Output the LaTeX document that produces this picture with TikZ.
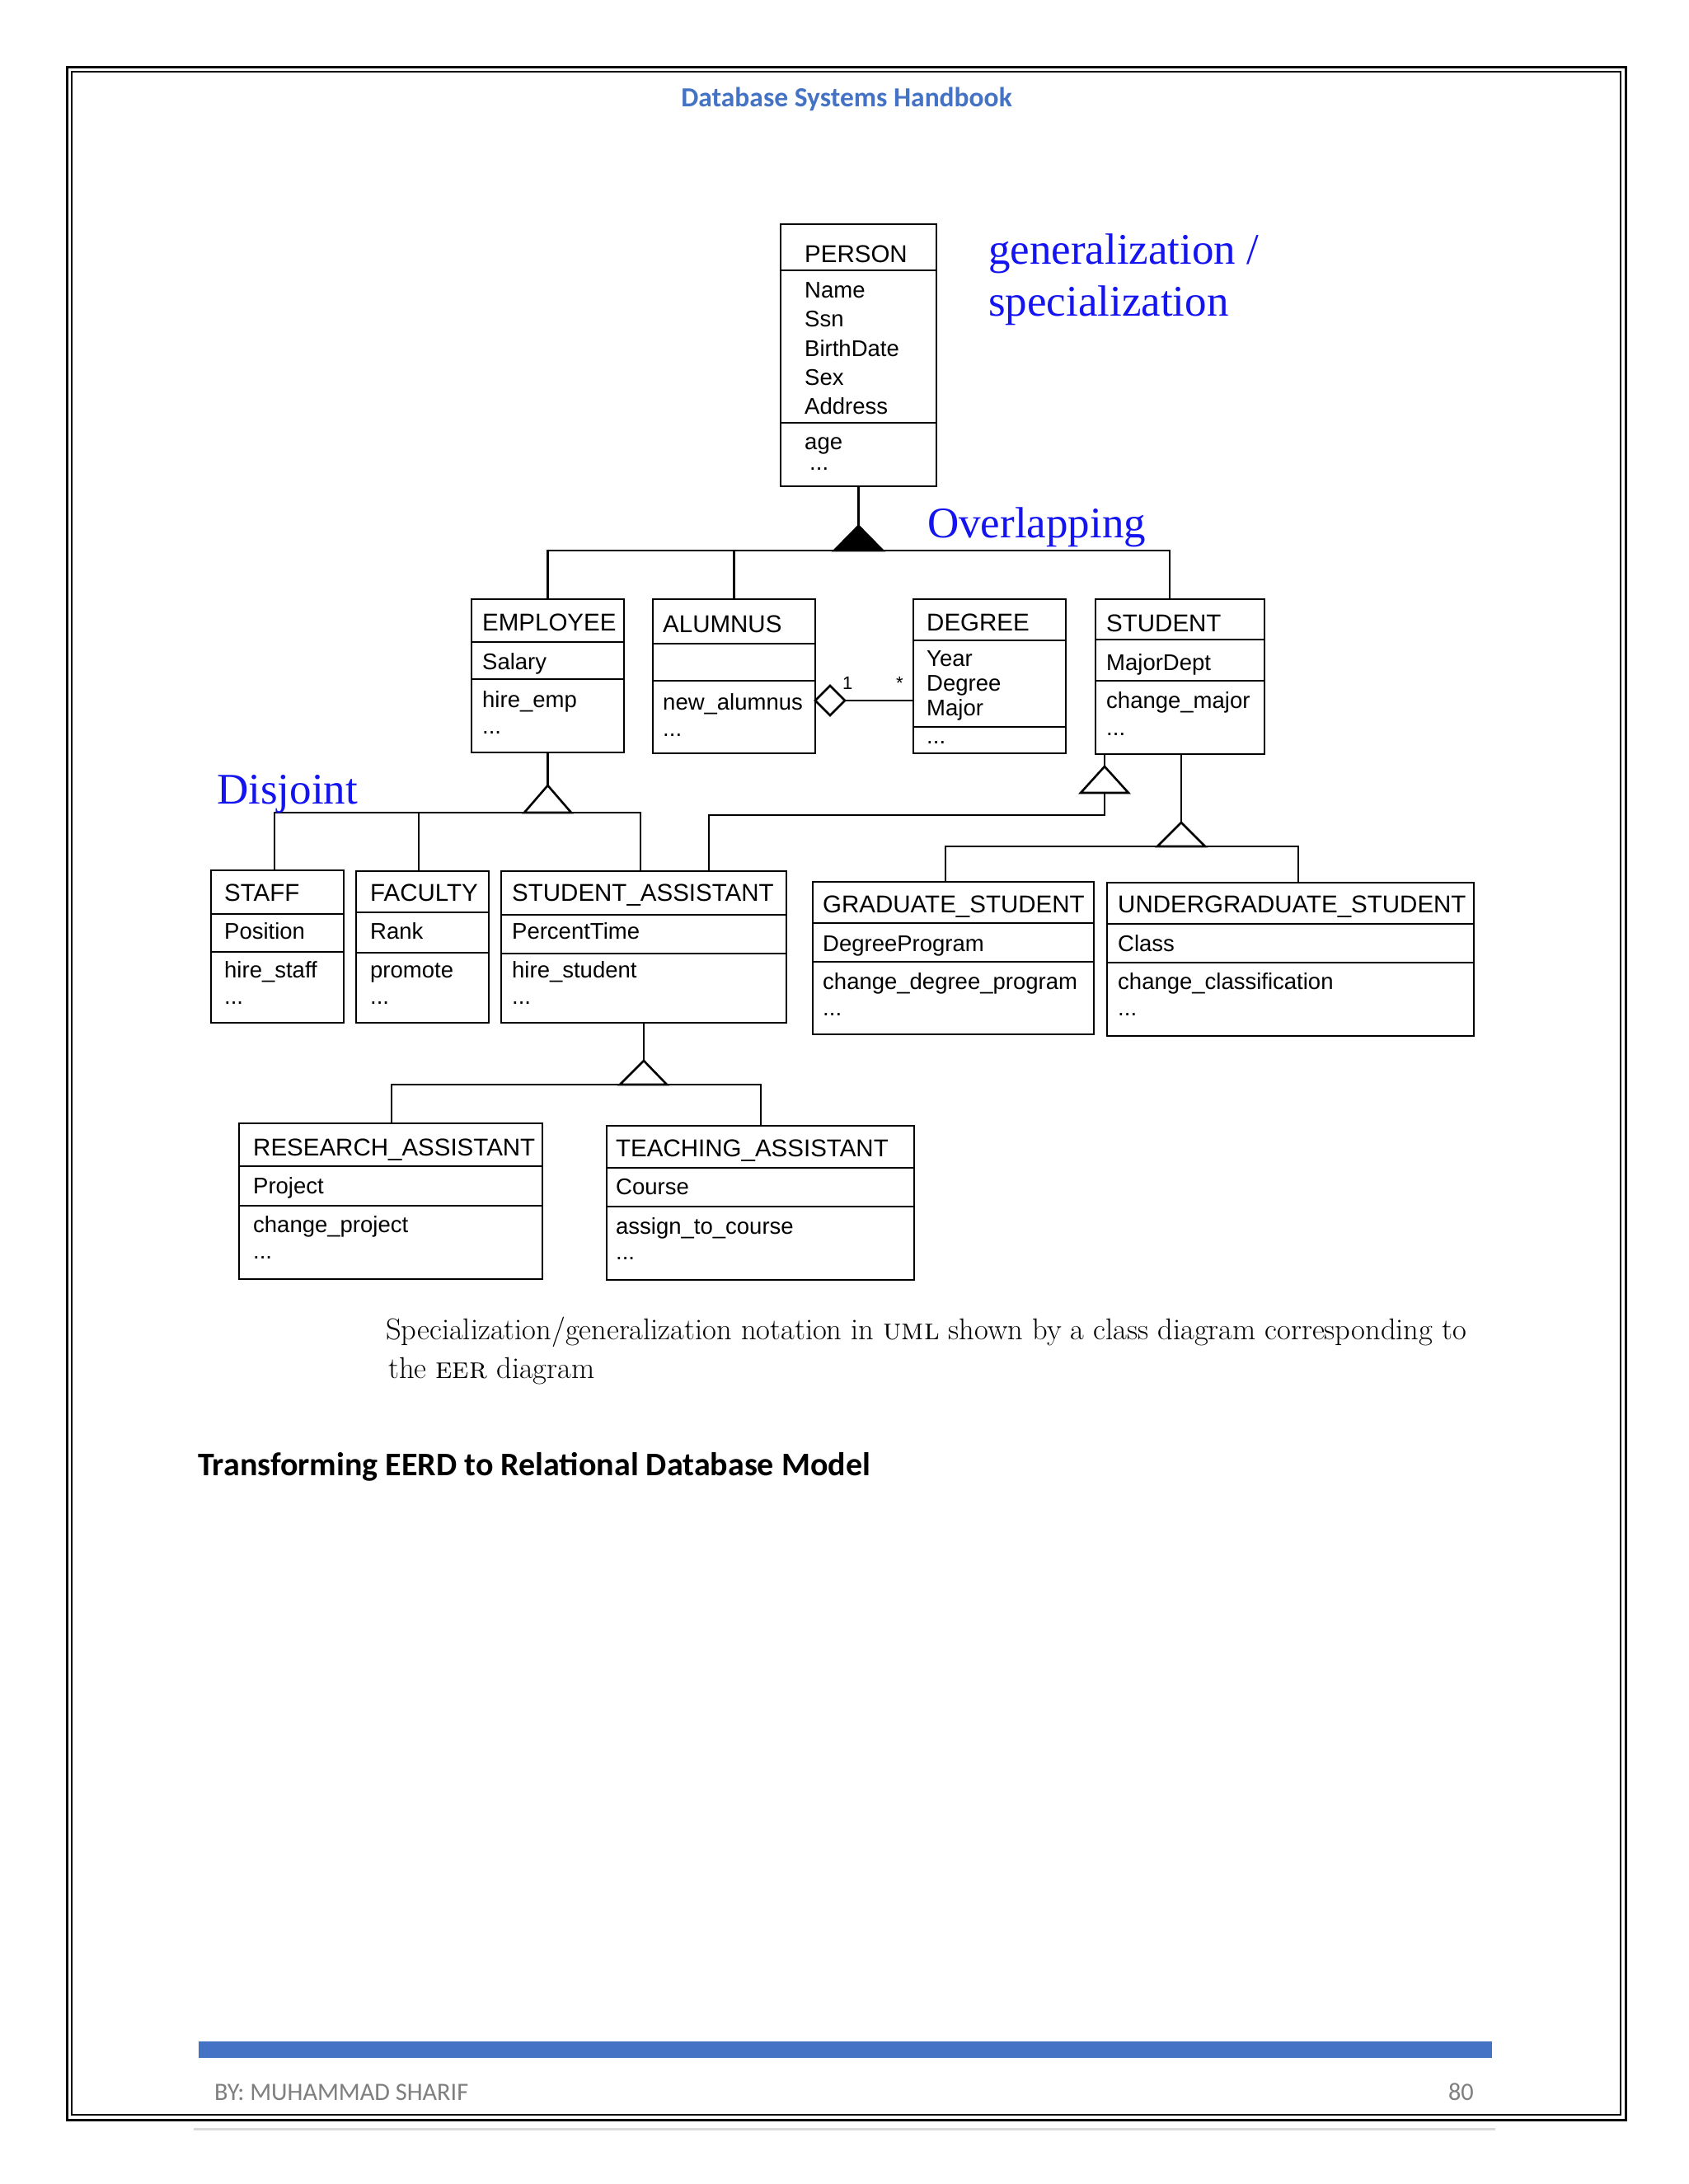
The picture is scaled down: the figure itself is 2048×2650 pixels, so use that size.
\documentclass[tikz,border=0pt]{standalone}
\usepackage{fontspec}
\newfontfamily\umlfont{Liberation Sans}
\newfontfamily\tmsfont{Liberation Serif}
\newfontfamily\calfont{Carlito}
\definecolor{hdrblue}{HTML}{4472C4}
\definecolor{labelblue}{HTML}{1414F0}
\definecolor{footgray}{HTML}{7F7F7F}
\definecolor{linegray}{HTML}{D9D9D9}
\newcommand{\umlcls}[7]{%
  \node[clsbox, minimum width={#4pt-#2pt}, minimum height={#5pt-#3pt}] (#1) at ({(#2+#4)/2},{(#3+#5)/2}) {};
  \draw[divl] (#2,#6) -- (#4,#6);
  \draw[divl] (#2,#7) -- (#4,#7);
}
\newcommand{\dts}{...}
\tikzset{
  clsbox/.style={draw, line width=2.8pt, inner sep=0pt, outer sep=0pt},
  divl/.style={line width=2.8pt},
  conn/.style={line width=2.6pt, line join=miter},
  ttl/.style={anchor=base west, inner sep=0pt, font=\umlfont\fontsize{29.5}{34}\selectfont},
  attr/.style={anchor=base west, inner sep=0pt, font=\umlfont\fontsize{27.5}{32}\selectfont},
  mult/.style={anchor=base west, inner sep=0pt, font=\umlfont\fontsize{22}{26}\selectfont},
  bluelbl/.style={anchor=base west, inner sep=0pt, text=labelblue, font=\tmsfont\fontsize{53}{60}\selectfont},
}
\begin{document}
\begin{tikzpicture}[x=1pt,y=-1pt]
\fill[white] (0,0) rectangle (2048,2650);
\useasboundingbox (0,0) rectangle (2048,2650);
% page frame
\draw[line width=3pt] (81,81) rectangle (1972,2572);
\draw[line width=1.6pt] (87,87) rectangle (1966,2566);
% header
\node[anchor=base, inner sep=0pt, text=hdrblue, font=\calfont\bfseries\fontsize{33.5}{38}\selectfont] (hdr) at (1027,129) {Database Systems Handbook};

% ---------- classes ----------
\umlcls{person}{947}{272}{1136}{590}{328}{513}
\node[ttl] (person-t) at (976,318) {PERSON};
\node[attr] (person-a1) at (976,361) {Name};
\node[attr] (person-a2) at (976,396) {Ssn};
\node[attr] (person-a3) at (976,432) {BirthDate};
\node[attr] (person-a4) at (976,467) {Sex};
\node[attr] (person-a5) at (976,502) {Address};
\node[attr] (person-m1) at (976,545) {age};
\node[attr] (person-m2) at (982,570) {\dts};

\umlcls{employee}{572}{727}{757}{913}{779}{824}
\node[ttl] (employee-t) at (585,765) {EMPLOYEE};
\node[attr] (employee-a1) at (585,812) {Salary};
\node[attr] (employee-m1) at (585,858) {hire\_emp};
\node[attr] (employee-m2) at (585,890) {\dts};

\umlcls{alumnus}{792}{727}{989}{914}{781}{826}
\node[ttl] (alumnus-t) at (804,767) {ALUMNUS};
\node[attr] (alumnus-m1) at (804,861) {new\_alumnus};
\node[attr] (alumnus-m2) at (804,893) {\dts};

\umlcls{degree}{1108}{727}{1293}{914}{777}{882}
\node[ttl] (degree-t) at (1124,765) {DEGREE};
\node[attr] (degree-a1) at (1124,808) {Year};
\node[attr] (degree-a2) at (1124,838) {Degree};
\node[attr] (degree-a3) at (1124,868) {Major};
\node[attr] (degree-m1) at (1124,902) {\dts};

\umlcls{student}{1329}{727}{1534}{915}{776}{826}
\node[ttl] (student-t) at (1342,766) {STUDENT};
\node[attr] (student-a1) at (1342,813) {MajorDept};
\node[attr] (student-m1) at (1342,859) {change\_major};
\node[attr] (student-m2) at (1342,892) {\dts};

\umlcls{staff}{256}{1056}{417}{1241}{1109}{1155}
\node[ttl] (staff-t) at (272,1093) {STAFF};
\node[attr] (staff-a1) at (272,1139) {Position};
\node[attr] (staff-m1) at (272,1186) {hire\_staff};
\node[attr] (staff-m2) at (272,1218) {\dts};

\umlcls{faculty}{432}{1057}{593}{1241}{1107}{1156}
\node[ttl] (faculty-t) at (449,1093) {FACULTY};
\node[attr] (faculty-a1) at (449,1139) {Rank};
\node[attr] (faculty-m1) at (449,1186) {promote};
\node[attr] (faculty-m2) at (449,1218) {\dts};

\umlcls{sassist}{608}{1057}{954}{1241}{1110}{1157}
\node[ttl] (sassist-t) at (621,1093) {STUDENT\_ASSISTANT};
\node[attr] (sassist-a1) at (621,1139) {PercentTime};
\node[attr] (sassist-m1) at (621,1186) {hire\_student};
\node[attr] (sassist-m2) at (621,1218) {\dts};

\umlcls{grad}{986}{1070}{1327}{1255}{1120}{1167}
\node[ttl] (grad-t) at (998,1107) {GRADUATE\_STUDENT};
\node[attr] (grad-a1) at (998,1154) {DegreeProgram};
\node[attr] (grad-m1) at (998,1200) {change\_degree\_program};
\node[attr] (grad-m2) at (998,1232) {\dts};

\umlcls{ugrad}{1343}{1071}{1788}{1257}{1121}{1168}
\node[ttl] (ugrad-t) at (1356,1107) {UNDERGRADUATE\_STUDENT};
\node[attr] (ugrad-a1) at (1356,1154) {Class};
\node[attr] (ugrad-m1) at (1356,1200) {change\_classification};
\node[attr] (ugrad-m2) at (1356,1232) {\dts};

\umlcls{rassist}{290}{1363}{658}{1552}{1415}{1463}
\node[ttl] (rassist-t) at (307,1402) {RESEARCH\_ASSISTANT};
\node[attr] (rassist-a1) at (307,1448) {Project};
\node[attr] (rassist-m1) at (307,1495) {change\_project};
\node[attr] (rassist-m2) at (307,1527) {\dts};

\umlcls{tassist}{736}{1366}{1109}{1553}{1417}{1464}
\node[ttl] (tassist-t) at (747,1403) {TEACHING\_ASSISTANT};
\node[attr] (tassist-a1) at (747,1449) {Course};
\node[attr] (tassist-m1) at (747,1497) {assign\_to\_course};
\node[attr] (tassist-m2) at (747,1528) {\dts};

% ---------- connectors ----------
% PERSON overlapping
\coordinate (ov-apex) at (1041.5,638);
\coordinate (ov-l) at (1012,668);
\coordinate (ov-r) at (1071,668);
\coordinate (ov-bl) at (664.5,668);
\coordinate (ov-ba) at (890.5,668);
\coordinate (ov-br) at (1419,668);
\draw[conn] (person.south) -- (ov-apex);
\draw[conn] (employee.north) -- (ov-bl) -- (ov-br) -- (ov-br |- student.north);
\draw[conn] (ov-ba) -- (alumnus.north);
\filldraw[conn] (ov-apex) -- (ov-l) -- (ov-r) -- cycle;

% aggregation ALUMNUS - DEGREE
\coordinate (dia-l) at (989,850);
\coordinate (dia-t) at (1007,832);
\coordinate (dia-r) at (1025,850);
\coordinate (dia-b) at (1007,868);
\draw[conn] (dia-r) -- (dia-r -| degree.west);
\draw[conn, fill=white] (dia-l) -- (dia-t) -- (dia-r) -- (dia-b) -- cycle;
\node[mult] (mult-1) at (1022,836) {1};
\node[mult] (mult-s) at (1087,836) {*};

% EMPLOYEE disjoint
\coordinate (dj-apex) at (664.5,953);
\coordinate (dj-l) at (636,986);
\coordinate (dj-r) at (693,986);
\coordinate (dj-bl) at (333,986);
\coordinate (dj-bf) at (508,986);
\coordinate (dj-br) at (777,986);
\draw[conn] (employee.south) -- (dj-apex);
\draw[conn] (dj-bl |- staff.north) -- (dj-bl) -- (dj-br) -- (dj-br |- sassist.north);
\draw[conn] (dj-bf) -- (dj-bf |- faculty.north);
\draw[conn, fill=white] (dj-apex) -- (dj-l) -- (dj-r) -- cycle;

% STUDENT -> STUDENT_ASSISTANT
\coordinate (sa-apex) at (1340,930);
\coordinate (sa-l) at (1311,962);
\coordinate (sa-r) at (1369,962);
\coordinate (sa-bc) at (1340,962);
\coordinate (sa-k1) at (1340,989);
\coordinate (sa-k2) at (860,989);
\draw[conn] (sa-apex |- student.south) -- (sa-apex);
\draw[conn] (sa-bc) -- (sa-k1) -- (sa-k2) -- (sa-k2 |- sassist.north);
\draw[conn, fill=white] (sa-apex) -- (sa-l) -- (sa-r) -- cycle;

% STUDENT -> GRAD / UNDERGRAD
\coordinate (gs-apex) at (1433,998);
\coordinate (gs-l) at (1404,1027);
\coordinate (gs-r) at (1462,1027);
\coordinate (gs-bl) at (1147,1027);
\coordinate (gs-br) at (1575,1027);
\draw[conn] (gs-apex |- student.south) -- (gs-apex);
\draw[conn] (gs-bl |- grad.north) -- (gs-bl) -- (gs-br) -- (gs-br |- ugrad.north);
\draw[conn, fill=white] (gs-apex) -- (gs-l) -- (gs-r) -- cycle;

% STUDENT_ASSISTANT -> RA / TA
\coordinate (ra-apex) at (781,1287);
\coordinate (ra-l) at (752,1316);
\coordinate (ra-r) at (809,1316);
\coordinate (ra-bl) at (475,1316);
\coordinate (ra-br) at (923,1316);
\draw[conn] (sassist.south) -- (ra-apex);
\draw[conn] (ra-bl |- rassist.north) -- (ra-bl) -- (ra-br) -- (ra-br |- tassist.north);
\draw[conn, fill=white] (ra-apex) -- (ra-l) -- (ra-r) -- cycle;

% blue labels
\node[bluelbl] (lbl-gen) at (1199,320) {generalization /};
\node[bluelbl] (lbl-spec) at (1199,383) {specialization};
\node[bluelbl] (lbl-ovl) at (1125,652) {Overlapping};
\node[bluelbl] (lbl-dis) at (263,975) {Disjoint};

% caption
\node[anchor=base west, inner sep=0pt, text=black, font=\fontsize{36.5}{42}\selectfont] (cap1) at (468,1625) {Specialization/generalization notation in \textsc{uml} shown by a class diagram corresponding to};
\node[anchor=base west, inner sep=0pt, text=black, font=\fontsize{36.5}{42}\selectfont] (cap2) at (471,1672) {the \textsc{eer} diagram};

% heading
\node[anchor=base west, inner sep=0pt, font=\calfont\bfseries\fontsize{40}{46}\selectfont] (head) at (240,1790) {Transforming EERD to Relational Database Model};

% footer
\fill[hdrblue] (241,2477) rectangle (1810,2497);
\node[anchor=base west, inner sep=0pt, text=footgray, font=\calfont\fontsize{30.3}{35}\selectfont] (by) at (260,2548) {BY: MUHAMMAD SHARIF};
\node[anchor=base east, inner sep=0pt, text=footgray, font=\calfont\fontsize{30.3}{35}\selectfont] (pg) at (1788,2548) {80};
\draw[linegray, line width=3pt] (235,2583) -- (1814,2583);
\end{tikzpicture}
\end{document}
